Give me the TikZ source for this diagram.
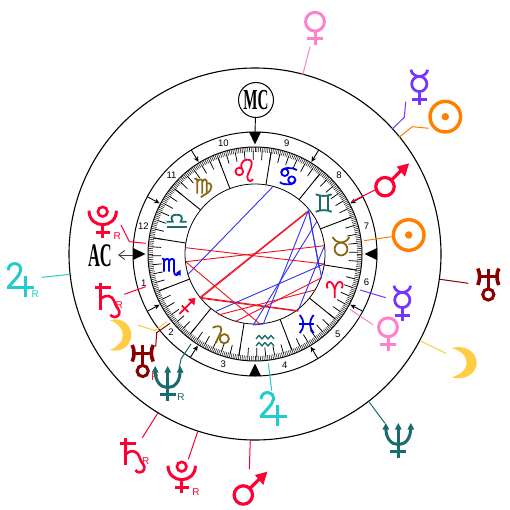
\documentclass[tikz,border=0pt]{standalone}
\usepackage{fontspec}
\usepackage{graphicx}
\usetikzlibrary{arrows.meta}
\setmainfont{Liberation Sans}
\newfontfamily\serfont{Liberation Serif}
\definecolor{zteal}{HTML}{1A6B6B}
\definecolor{zbrown}{HTML}{8B6914}
\definecolor{zred}{HTML}{FF0033}
\definecolor{zblue}{HTML}{0000EE}
\definecolor{ppink}{HTML}{FF80CC}
\definecolor{ppurple}{HTML}{7733FF}
\definecolor{porange}{HTML}{FF8000}
\definecolor{pyellow}{HTML}{FFCC44}
\definecolor{pdark}{HTML}{880000}
\definecolor{pcyan}{HTML}{22CCCC}
\definecolor{aspred}{HTML}{EE1122}
\definecolor{aspblue}{HTML}{3333EE}
\tikzset{
  ring/.style={draw=black,line width=1pt},
  cusp/.style={draw=black,line width=.9pt},
  leader/.style={line width=1pt},
  aspR/.style={draw=aspred,line width=.9pt},
  aspB/.style={draw=aspblue,line width=.9pt},
  housenum/.style={font=\fontsize{9.5}{10}\selectfont,inner sep=0pt},
  retro/.style={font=\fontsize{10}{10}\selectfont,inner sep=0pt},
  zsym/.style={line width=1.8pt},
  pics/sun/.style={code={
    \draw[line width=3.4pt] (0,0) circle (15.3);
    \fill (0,0) circle (3.7);}},
  pics/venus/.style={code={
    \draw[line width=3pt] (0,0) circle (9.4);
    \draw[line width=3pt] (0,9.4) -- (0,23.4) (-7.7,17.3) -- (7.7,17.3);}},
  pics/mercury/.style={code={
    \draw[line width=2.7pt] (0,0) circle (7.6);
    \draw[line width=2.7pt] (-8.5,-14.2) .. controls (-7,-9) and (-3,-7.6) .. (0,-7.6) .. controls (3,-7.6) and (7,-9) .. (8.5,-14.2);
    \draw[line width=2.7pt] (0,7.6) -- (0,21) (-7.5,15.4) -- (7.5,15.4);}},
  pics/mars/.style={code={
    \draw[line width=3.2pt] (0,0) circle (9.2);
    \draw[line width=3.2pt] (6.5,-6.5) -- (16,-16);
    \fill (24,-23.3) -- (11.7,-20) -- (20,-10) -- cycle;}},
  pics/jupiter/.style={code={
    \draw[line width=3pt] (1,7.5) .. controls (1.2,3) and (4,0.9) .. (7.5,0.9) .. controls (11.5,0.9) and (14,4) .. (13.3,8) .. controls (12.5,13) and (5,19.5) .. (1,24.5);
    \draw[line width=3pt] (0,24.5) -- (27,24.5) (17.7,13.5) -- (17.7,34.5);}},
  pics/saturn/.style={code={
    \draw[line width=3pt] (0,0) -- (0,27) (-5.5,5.2) -- (10.7,5.2);
    \draw[line width=2.6pt] (0,17) .. controls (3,13.5) and (8,11.5) .. (12,15) .. controls (15,18) and (15,23) .. (18,26) .. controls (21,29.5) and (19,34.5) .. (14.5,34.3) .. controls (12.5,34.2) and (11,33.2) .. (10.5,32);}},
  pics/uranus/.style={code={
    \draw[line width=3.6pt] (-10.5,0) .. controls (-8,5) and (-8,11) .. (-10.5,16.5);
    \draw[line width=3.6pt] (10.5,0) .. controls (8,5) and (8,11) .. (10.5,16.5);
    \draw[line width=3pt] (-8,8.2) -- (8,8.2) (0,0) -- (0,20.5);
    \draw[line width=3pt] (0,26) circle (5.6);}},
  pics/neptune/.style={code={
    \draw[line width=3pt] (0,4) -- (0,34.6) (-8,28.6) -- (8,28.6);
    \draw[line width=3pt] (-12.5,4) .. controls (-12.5,16) and (-7,21.5) .. (0,21.5) .. controls (7,21.5) and (12.5,16) .. (12.5,4);
    \fill (0,0) -- (3.4,6.5) -- (-3.4,6.5) -- cycle;
    \fill (-12.5,0) -- (-9.1,6.5) -- (-15.9,6.5) -- cycle;
    \fill (12.5,0) -- (15.9,6.5) -- (9.1,6.5) -- cycle;}},
  pics/pluto/.style={code={
    \draw[line width=2.6pt] (0,0) circle (4.8);
    \draw[line width=3pt] (-13.7,-1) .. controls (-13.7,8) and (-7,13) .. (0,13) .. controls (7,13) and (13.7,8) .. (13.7,-1);
    \draw[line width=3pt] (0,13) -- (0,26.6) (-7,20.3) -- (7,20.3);}},
  pics/crescent/.style={code={
    \fill (0,-14.7) .. controls (14,-18.5) and (25,-10) .. (25,0) .. controls (25,10) and (14,18.5) .. (0,14.7) .. controls (9,12) and (15,7) .. (15,0) .. controls (15,-7) and (9,-12) .. (0,-14.7) -- cycle;}},
  pics/libra/.style={code={
    \draw[zsym] (-10,5.7) -- (10,5.7);
    \draw[zsym] (-10,0) -- (-4,0) .. controls (-7,-5) and (-4,-7) .. (0,-7) .. controls (4,-7) and (7,-5) .. (4,0) -- (10,0);}},
  pics/virgo/.style={code={
    \draw[zsym] (-9,-9) .. controls (-7,-9.5) and (-6,-9) .. (-6,-7) -- (-6,6);
    \draw[zsym] (-6,-6) .. controls (-5,-9) and (-1,-9) .. (-1,-6.5) -- (-1,6);
    \draw[zsym] (-1,-6) .. controls (0,-9) and (3.5,-9) .. (3.5,-6.5) -- (3.5,6);
    \draw[zsym] (3.5,-4) .. controls (9,-6.5) and (10.5,2) .. (3,6) .. controls (1,7) and (-1,8.5) .. (-2.5,9.5);}},
  pics/leo/.style={code={
    \draw[zsym] (-5,1.5) circle (3.8);
    \draw[zsym] (-2.5,-1.5) .. controls (-5,-9) and (2,-11.5) .. (5.5,-10) .. controls (11,-7) and (3,3) .. (3,7) .. controls (3,12) and (8,12) .. (8.5,9);}},
  pics/cancer/.style={code={
    \draw[zsym] (-3.5,-4.3) circle (3.6);
    \draw[zsym] (3.5,3.3) circle (3.6);
    \draw[zsym] (-7,-4.3) .. controls (-7,-9.5) and (4,-10) .. (8.5,-6.5);
    \draw[zsym] (7,3.3) .. controls (7,8.5) and (-4,9) .. (-8.5,5.5);}},
  pics/gemini/.style={code={
    \draw[zsym] (-8,-9) .. controls (-3,-6.8) and (3,-6.8) .. (8,-9);
    \draw[zsym] (-8,8.5) .. controls (-3,6.3) and (3,6.3) .. (8,8.5);
    \draw[zsym] (-4,-7.5) -- (-4,7) (4,-7.5) -- (4,7);}},
  pics/taurus/.style={code={
    \draw[zsym] (0,0) circle (6.4);
    \draw[zsym] (-8.5,-12) .. controls (-6,-8) and (-3,-6.4) .. (0,-6.4) .. controls (3,-6.4) and (6,-8) .. (8.5,-12);}},
  pics/aries/.style={code={
    \draw[zsym] (0,9.5) -- (0,1) .. controls (-1,-3) and (-3,-6.5) .. (-5,-6.5) .. controls (-8,-6.5) and (-8.7,-2) .. (-7,0);
    \draw[zsym] (0,1) .. controls (1,-3) and (3,-6.5) .. (5,-6.5) .. controls (8,-6.5) and (8.7,-2) .. (7,0);}},
  pics/pisces/.style={code={
    \draw[zsym] (-7,-9) .. controls (-2,-3) and (-2,3) .. (-7,9);
    \draw[zsym] (7,-9) .. controls (2,-3) and (2,3) .. (7,9);
    \draw[zsym] (-7.7,0) -- (7.7,0);}},
  pics/aquarius/.style={code={
    \foreach \y in {-3.8,3.2}{
      \draw[line width=1.3pt,line join=round] (-9,\y+1.8) -- (-6,\y-1.8) -- (-3,\y+1.8) -- (0,\y-1.8) -- (3,\y+1.8) -- (6,\y-1.8) -- (9,\y+1.8);
    }}},
  pics/capricorn/.style={code={
    \draw[zsym] (-8.7,-7.3) .. controls (-5,-9) and (0,-10) .. (0,-6) .. controls (0,-2) and (-4,3) .. (-5.3,8);
    \draw[zsym] (3,3.7) circle (4.6);}},
  pics/sagittarius/.style={code={
    \draw[zsym] (-8,8) -- (5,-5) (-5.5,-0.5) -- (1,6);
    \fill (8,-8) -- (0.5,-7) -- (7,-0.5) -- cycle;}},
  pics/scorpio/.style={code={
    \draw[zsym] (-8,-8) .. controls (-6.5,-8.5) and (-6,-8) .. (-6,-6) -- (-6,5);
    \draw[zsym] (-6,-5) .. controls (-5,-8.5) and (-1,-8.5) .. (-1,-6) -- (-1,5);
    \draw[zsym] (-1,-5) .. controls (0,-8.5) and (4,-8.5) .. (4,-6) -- (4,4) .. controls (4,8) and (6,9.5) .. (8.5,7.5);
    \fill (10.5,3) -- (10.8,9) -- (5.8,6.5) -- cycle;}},
}
\begin{document}
\begin{tikzpicture}[x=1pt,y=-1pt]
\useasboundingbox (0,0) rectangle (510,510);
\fill[white] (0,0) rectangle (510,510);
\coordinate (c) at (255,254);
% rings
\draw[ring,line width=1.1pt] (c) circle (186);
\draw[ring] (c) circle (122);
\draw[ring] (c) circle (107);
\draw[ring,line width=.8pt] (c) circle (70);
% degree scale
\foreach \d in {0,...,359}{
  \draw[line width=.6pt,black!85] ({255+102*cos(\d)},{254-102*sin(\d)}) -- ({255+107*cos(\d)},{254-107*sin(\d)});
}
\foreach \d in {1,6,...,356}{
  \draw[line width=.75pt] ({255+94*cos(\d)},{254-94*sin(\d)}) -- ({255+103*cos(\d)},{254-103*sin(\d)});
}
% sign divisions
\foreach \d in {21,51,...,351}{
  \draw[cusp] ({255+70*cos(\d)},{254-70*sin(\d)}) -- ({255+103*cos(\d)},{254-103*sin(\d)});
}
% signs
\pic[color=zteal] at (176.7,221.7) {libra};
\pic[color=zbrown] at (203.3,187.7) {virgo};
\pic[color=zred] at (244.3,170) {leo};
\pic[color=zblue] at (288.3,176.7) {cancer};
\pic[color=zteal] at (323.7,203.3) {gemini};
\pic[color=zbrown] at (341,249) {taurus};
\pic[color=zred] at (334.7,288.3) {aries};
\pic[color=zblue] at (306.7,324) {pisces};
\pic[color=zteal] at (265,341) {aquarius};
\pic[color=zbrown] at (221.3,335) {capricorn};
\pic[color=zred] at (187.3,306) {sagittarius};
\pic[color=zblue] at (170,266.7) {scorpio};
% house cusps
\foreach \d in {58.5,28,332,301,238,208,152,121.5}{
  \draw[line width=.9pt,-{Stealth[length=5.5pt,width=5pt]}] ({255+122*cos(\d)},{254-122*sin(\d)}) -- ({255+108*cos(\d)},{254-108*sin(\d)});
}
% house numbers
\foreach \n/\a in {1/194.8,2/223,3/254,4/285,5/316,6/346,7/14,8/43,9/74,10/106,11/136.5,12/166}{
  \node[housenum] (h\n) at ({255+115*cos(\a)},{254-115*sin(\a)}) {\n};
}
% angles
\foreach \d in {0,90,180,270}{
  \fill ({255+109.5*cos(\d)},{254-109.5*sin(\d)}) -- ({255+122*cos(\d)+6*sin(\d)},{254-122*sin(\d)+6*cos(\d)}) -- ({255+122*cos(\d)-6*sin(\d)},{254-122*sin(\d)-6*cos(\d)}) -- cycle;
}
% aspects
\foreach \x/\y/\u/\v in {308.3/210.7/200/297.3, 308.6/211.2/200.6/298, 185.7/247.7/324/264, 185.7/261.7/324/245.7, 185.7/261.7/260/324, 200/297.3/298.3/310.7, 200/298.2/298.3/311.3, 218.3/315/315/290, 235/321.7/321.7/277.7}{
  \draw[aspR] (\x,\y) -- (\u,\v);
}
\foreach \x/\y/\u/\v in {272.3/187.3/187.3/275, 215/311.7/324/264, 298.3/310/324/246.7, 308.3/210.7/321.7/278.3, 308.8/210.7/319/268, 308.3/210.7/263.3/324, 316.7/221.7/253.3/325, 253.3/325/263.3/324}{
  \draw[aspB] (\x,\y) -- (\u,\v);
}
% MC and AC
\node[draw=black,line width=1pt,circle,minimum size=35pt,inner sep=0pt] (mc) at (256,100) {\serfont\bfseries\fontsize{29}{29}\selectfont\scalebox{0.52}[1]{MC}};
\coordinate (mcb) at (255,132.5);
\draw[line width=.9pt] (mc) -- (mcb);
\node[inner sep=0pt] (ac) at (100,256) {\serfont\bfseries\fontsize{33}{33}\selectfont\scalebox{0.5}[1]{AC}};
\coordinate (acb) at (133,255);
\coordinate (act) at (118,255);
\draw[line width=.9pt,black!75,-{Straight Barb[length=6pt,width=9pt]}] (acb) -- (act);
% outer ring planets
\coordinate (l1a) at (310,46.7); \coordinate (l1b) at (302.7,75);
\draw[leader,ppink] (l1a) -- (l1b);
\pic[color=ppink] at (315,21.7) {venus};
\coordinate (l2a) at (405.7,101.7); \coordinate (l2b) at (404.3,117.3); \coordinate (l2c) at (392.3,129);
\draw[leader,ppurple] (l2a) -- (l2b) -- (l2c);
\pic[color=ppurple] at (419.3,84) {mercury};
\coordinate (l3a) at (428.7,128.3); \coordinate (l3b) at (412.3,126.7); \coordinate (l3c) at (399,137.3);
\draw[leader,porange] (l3a) -- (l3b) -- (l3c);
\pic[color=porange] at (445.3,116.7) {sun};
\coordinate (l4a) at (468.3,283.3); \coordinate (l4b) at (440,279.3);
\draw[leader,pdark] (l4a) -- (l4b);
\pic[color=pdark] at (488.3,268.5) {uranus};
\coordinate (l5a) at (446,353.3); \coordinate (l5b) at (420,340.7);
\draw[leader,pyellow] (l5a) -- (l5b);
\pic[color=pyellow] at (451.7,362.7) {crescent};
\coordinate (l6a) at (385,423.3); \coordinate (l6b) at (369.3,402.3);
\draw[leader,zteal] (l6a) -- (l6b);
\pic[color=zteal] at (398.3,423) {neptune};
\coordinate (l7a) at (249.3,469.3); \coordinate (l7b) at (250.3,440);
\draw[leader,zred] (l7a) -- (l7b);
\pic[color=zred] at (243.3,495) {mars};
\coordinate (l8a) at (188.3,459.3); \coordinate (l8b) at (197.7,431.7);
\draw[leader,zred] (l8a) -- (l8b);
\pic[color=zred] at (181.7,466.7) {pluto};
\node[retro,text=zred] (r1) at (196,492.3) {R};
\coordinate (l9a) at (142.3,437.7); \coordinate (l9b) at (157.7,413.3);
\draw[leader,zred] (l9a) -- (l9b);
\pic[color=zred] at (125,438) {saturn};
\node[retro,text=zred] (r2) at (145.7,460.7) {R};
\coordinate (l10a) at (41.7,277.3); \coordinate (l10b) at (70,274.3);
\draw[leader,pcyan] (l10a) -- (l10b);
\pic[color=pcyan] at (7.3,262.7) {jupiter};
\node[retro,text=pcyan] (r3) at (35.3,294) {R};
% inner planets
\coordinate (l11a) at (375,190); \coordinate (l11b) at (351.7,201.7);
\draw[leader,zred] (l11a) -- (l11b);
\pic[color=zred] at (385,186.7) {mars};
\coordinate (l12a) at (391.7,236.7); \coordinate (l12b) at (364,240.7);
\draw[leader,porange] (l12a) -- (l12b);
\pic[color=porange] at (408.7,235) {sun};
\coordinate (l13a) at (385.7,297.7); \coordinate (l13b) at (360,290);
\draw[leader,ppurple] (l13a) -- (l13b);
\pic[color=ppurple] at (402.3,300) {mercury};
\coordinate (l14a) at (373.3,325); \coordinate (l14b) at (350,309.3);
\draw[leader,ppink] (l14a) -- (l14b);
\pic[color=ppink] at (388,327.3) {venus};
\coordinate (l15a) at (271.7,390.7); \coordinate (l15b) at (268.3,363.3);
\draw[leader,pcyan] (l15a) -- (l15b);
\pic[color=pcyan] at (260,391.7) {jupiter};
\coordinate (l16a) at (155.7,346.7); \coordinate (l16b) at (156.7,332.7); \coordinate (l16c) at (170,323.3);
\draw[leader,pdark] (l16a) -- (l16b) -- (l16c);
\pic[color=pdark] at (142.7,345) {uranus};
\node[retro,text=zred] (r4) at (155,377) {R};
\coordinate (l17a) at (179,369); \coordinate (l17b) at (181,359); \coordinate (l17c) at (191,344);
\draw[leader,zteal] (l17a) -- (l17b) -- (l17c);
\pic[color=zteal] at (167.7,366) {neptune};
\node[retro,text=zteal] (r5) at (181,397.3) {R};
\coordinate (l18a) at (137.7,325); \coordinate (l18b) at (155,330.7); \coordinate (l18c) at (166.7,321.7);
\draw[leader,pyellow] (l18a) -- (l18b) -- (l18c);
\pic[color=pyellow,xscale=.85] at (110,335) {crescent};
\coordinate (l19a) at (124.3,294.3); \coordinate (l19b) at (145.7,286.7);
\draw[leader,zred] (l19a) -- (l19b);
\pic[color=zred] at (100,282.7) {saturn};
\node[retro,text=zred] (r6) at (119.3,305) {R};
\coordinate (l20a) at (121,225); \coordinate (l20b) at (129.3,241.7); \coordinate (l20c) at (145.7,243.3);
\draw[leader,zred] (l20a) -- (l20b) -- (l20c);
\pic[color=zred] at (102.7,211.7) {pluto};
\node[retro,text=zred] (r7) at (117.3,235.7) {R};
\end{tikzpicture}
\end{document}
